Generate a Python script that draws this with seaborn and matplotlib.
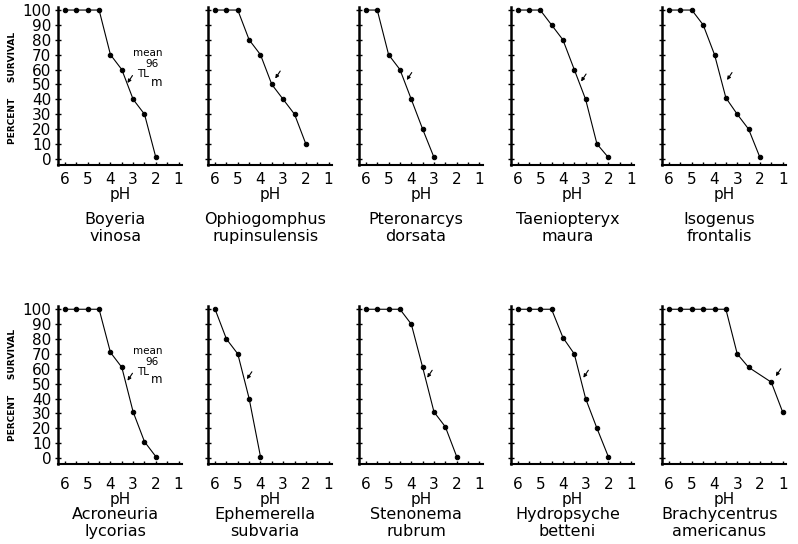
"""
Percent survival of ten aquatic insect species against pH,
small multiples in two rows of five panels.
"""
import matplotlib
matplotlib.use('Agg')
import matplotlib.pyplot as plt
import seaborn as sns
import pandas as pd

# species names (two lines each)
genus = ['Boyeria', 'Ophiogomphus', 'Pteronarcys', 'Taeniopteryx', 'Isogenus',
         'Acroneuria', 'Ephemerella', 'Stenonema', 'Hydropsyche',
         'Brachycentrus']
species = ['vinosa', 'rupinsulensis', 'dorsata', 'maura', 'frontalis',
           'lycorias', 'subvaria', 'rubrum', 'betteni', 'americanus']

# pH steps and survival for each panel
ph_boyeria = [6, 5.5, 5, 4.5, 4, 3.5, 3, 2.5, 2]
surv_boyeria = [100, 100, 100, 100, 70, 60, 40, 30, 1]
ph_ophio = [6, 5.5, 5, 4.5, 4, 3.5, 3, 2.5, 2]
surv_ophio = [100, 100, 100, 80, 70, 50, 40, 30, 10]
ph_ptero = [6, 5.5, 5, 4.5, 4, 3.5, 3]
surv_ptero = [100, 100, 70, 60, 40, 20, 1]
ph_taenio = [6, 5.5, 5, 4.5, 4, 3.5, 3, 2.5, 2]
surv_taenio = [100, 100, 100, 90, 80, 60, 40, 10, 1]
ph_isogenus = [6, 5.5, 5, 4.5, 4, 3.5, 3, 2.5, 2]
surv_isogenus = [100, 100, 100, 90, 70, 41, 30, 20, 1]
ph_acro = [6, 5.5, 5, 4.5, 4, 3.5, 3, 2.5, 2]
surv_acro = [100, 100, 100, 100, 71, 61, 31, 11, 1]
ph_ephem = [6, 5.5, 5, 4.5, 4]
surv_ephem = [100, 80, 70, 40, 1]
ph_steno = [6, 5.5, 5, 4.5, 4, 3.5, 3, 2.5, 2]
surv_steno = [100, 100, 100, 100, 90, 61, 31, 21, 1]
ph_hydro = [6, 5.5, 5, 4.5, 4, 3.5, 3, 2.5, 2]
surv_hydro = [100, 100, 100, 100, 81, 70, 40, 20, 1]
ph_brachy = [6, 5.5, 5, 4.5, 4, 3.5, 3, 2.5, 1.5, 1]
surv_brachy = [100, 100, 100, 100, 100, 100, 70, 61, 51, 31]

all_ph = [ph_boyeria, ph_ophio, ph_ptero, ph_taenio, ph_isogenus,
          ph_acro, ph_ephem, ph_steno, ph_hydro, ph_brachy]
all_surv = [surv_boyeria, surv_ophio, surv_ptero, surv_taenio, surv_isogenus,
            surv_acro, surv_ephem, surv_steno, surv_hydro, surv_brachy]

# mean 96 h TLm arrow: head (pH, survival)
tlm_ph = [3.25, 3.35, 4.2, 3.2, 3.45, 3.25, 4.6, 3.3, 3.1, 1.3]
tlm_surv = [51, 54, 53, 52, 53, 52, 53, 54, 54, 55]

x_ticks = [6, 5, 4, 3, 2, 1]

sns.set_style('ticks')
plt.rcParams['font.family'] = ['DejaVu Sans']
for k in ['text.color', 'axes.labelcolor', 'xtick.color', 'ytick.color',
          'axes.edgecolor']:
    plt.rcParams[k] = 'black'

fig = plt.figure(figsize=(7.98, 5.44), dpi=100)

lefts = [0.073, 0.261, 0.450, 0.640, 0.830]
bottoms = [0.697, 0.147]
w, h = 0.155, 0.29

for i in range(10):
    row, col = divmod(i, 5)
    ax = fig.add_axes([lefts[col], bottoms[row], w, h])
    df = pd.DataFrame({'pH': all_ph[i], 'survival': all_surv[i]})
    sns.lineplot(data=df, x='pH', y='survival', ax=ax, color='black',
                 linewidth=0.8, marker='o', markersize=3.2,
                 markeredgecolor='black', sort=False)
    ax.set_xlim(6.3, 0.85)
    ax.set_ylim(-4, 102)
    ax.set_xticks(x_ticks)
    ax.set_xticklabels([str(t) for t in x_ticks], fontsize=11)
    ax.set_xticks([5.5, 4.5, 3.5, 2.5, 1.5], minor=True)
    ax.set_yticks(range(0, 101, 10))
    ax.tick_params(axis='x', which='both', direction='in', length=2,
                   width=1, pad=5 if row == 0 else 9)
    ax.tick_params(axis='y', direction='inout', length=4, width=1, pad=3)
    if col == 0:
        ax.set_yticklabels([str(v) for v in range(0, 101, 10)], fontsize=11)
    else:
        ax.set_yticklabels([])
    ax.set_xlabel('pH', fontsize=11, labelpad=0)
    ax.set_ylabel('')
    for s in ['top', 'right']:
        ax.spines[s].set_visible(False)
    ax.spines['left'].set_linewidth(1.8)
    ax.spines['bottom'].set_linewidth(1.5)

    hx, hy = tlm_ph[i], tlm_surv[i]
    ax.annotate('', xy=(hx, hy), xytext=(hx - 0.22, hy + 5),
                arrowprops=dict(arrowstyle='-|>', lw=0.8, color='black',
                                mutation_scale=5, shrinkA=0, shrinkB=0))
    if col == 0:
        ax.text(hx - 0.25, hy + 20, 'mean', fontsize=7.5, va='center')
        ax.text(hx - 0.8, hy + 12.5, '96', fontsize=7.5, va='center')
        ax.text(hx - 0.42, hy + 6, 'TL', fontsize=7.5, va='center')
        ax.text(hx - 1.02, hy + 0.5, 'm', fontsize=8.5, va='center')

    cx = lefts[col] + w * 0.46
    ny = 0.596 if row == 0 else 0.054
    fig.text(cx, ny, genus[i], ha='center', va='center', fontsize=11.5)
    fig.text(cx, ny - 0.031, species[i], ha='center', va='center',
             fontsize=11.5)

for yc in [0.838, 0.292]:
    fig.text(0.016, yc, 'PERCENT     SURVIVAL', rotation=90, ha='center',
             va='center', fontsize=6.5, fontweight='bold')

plt.savefig('out.png', dpi=100)
